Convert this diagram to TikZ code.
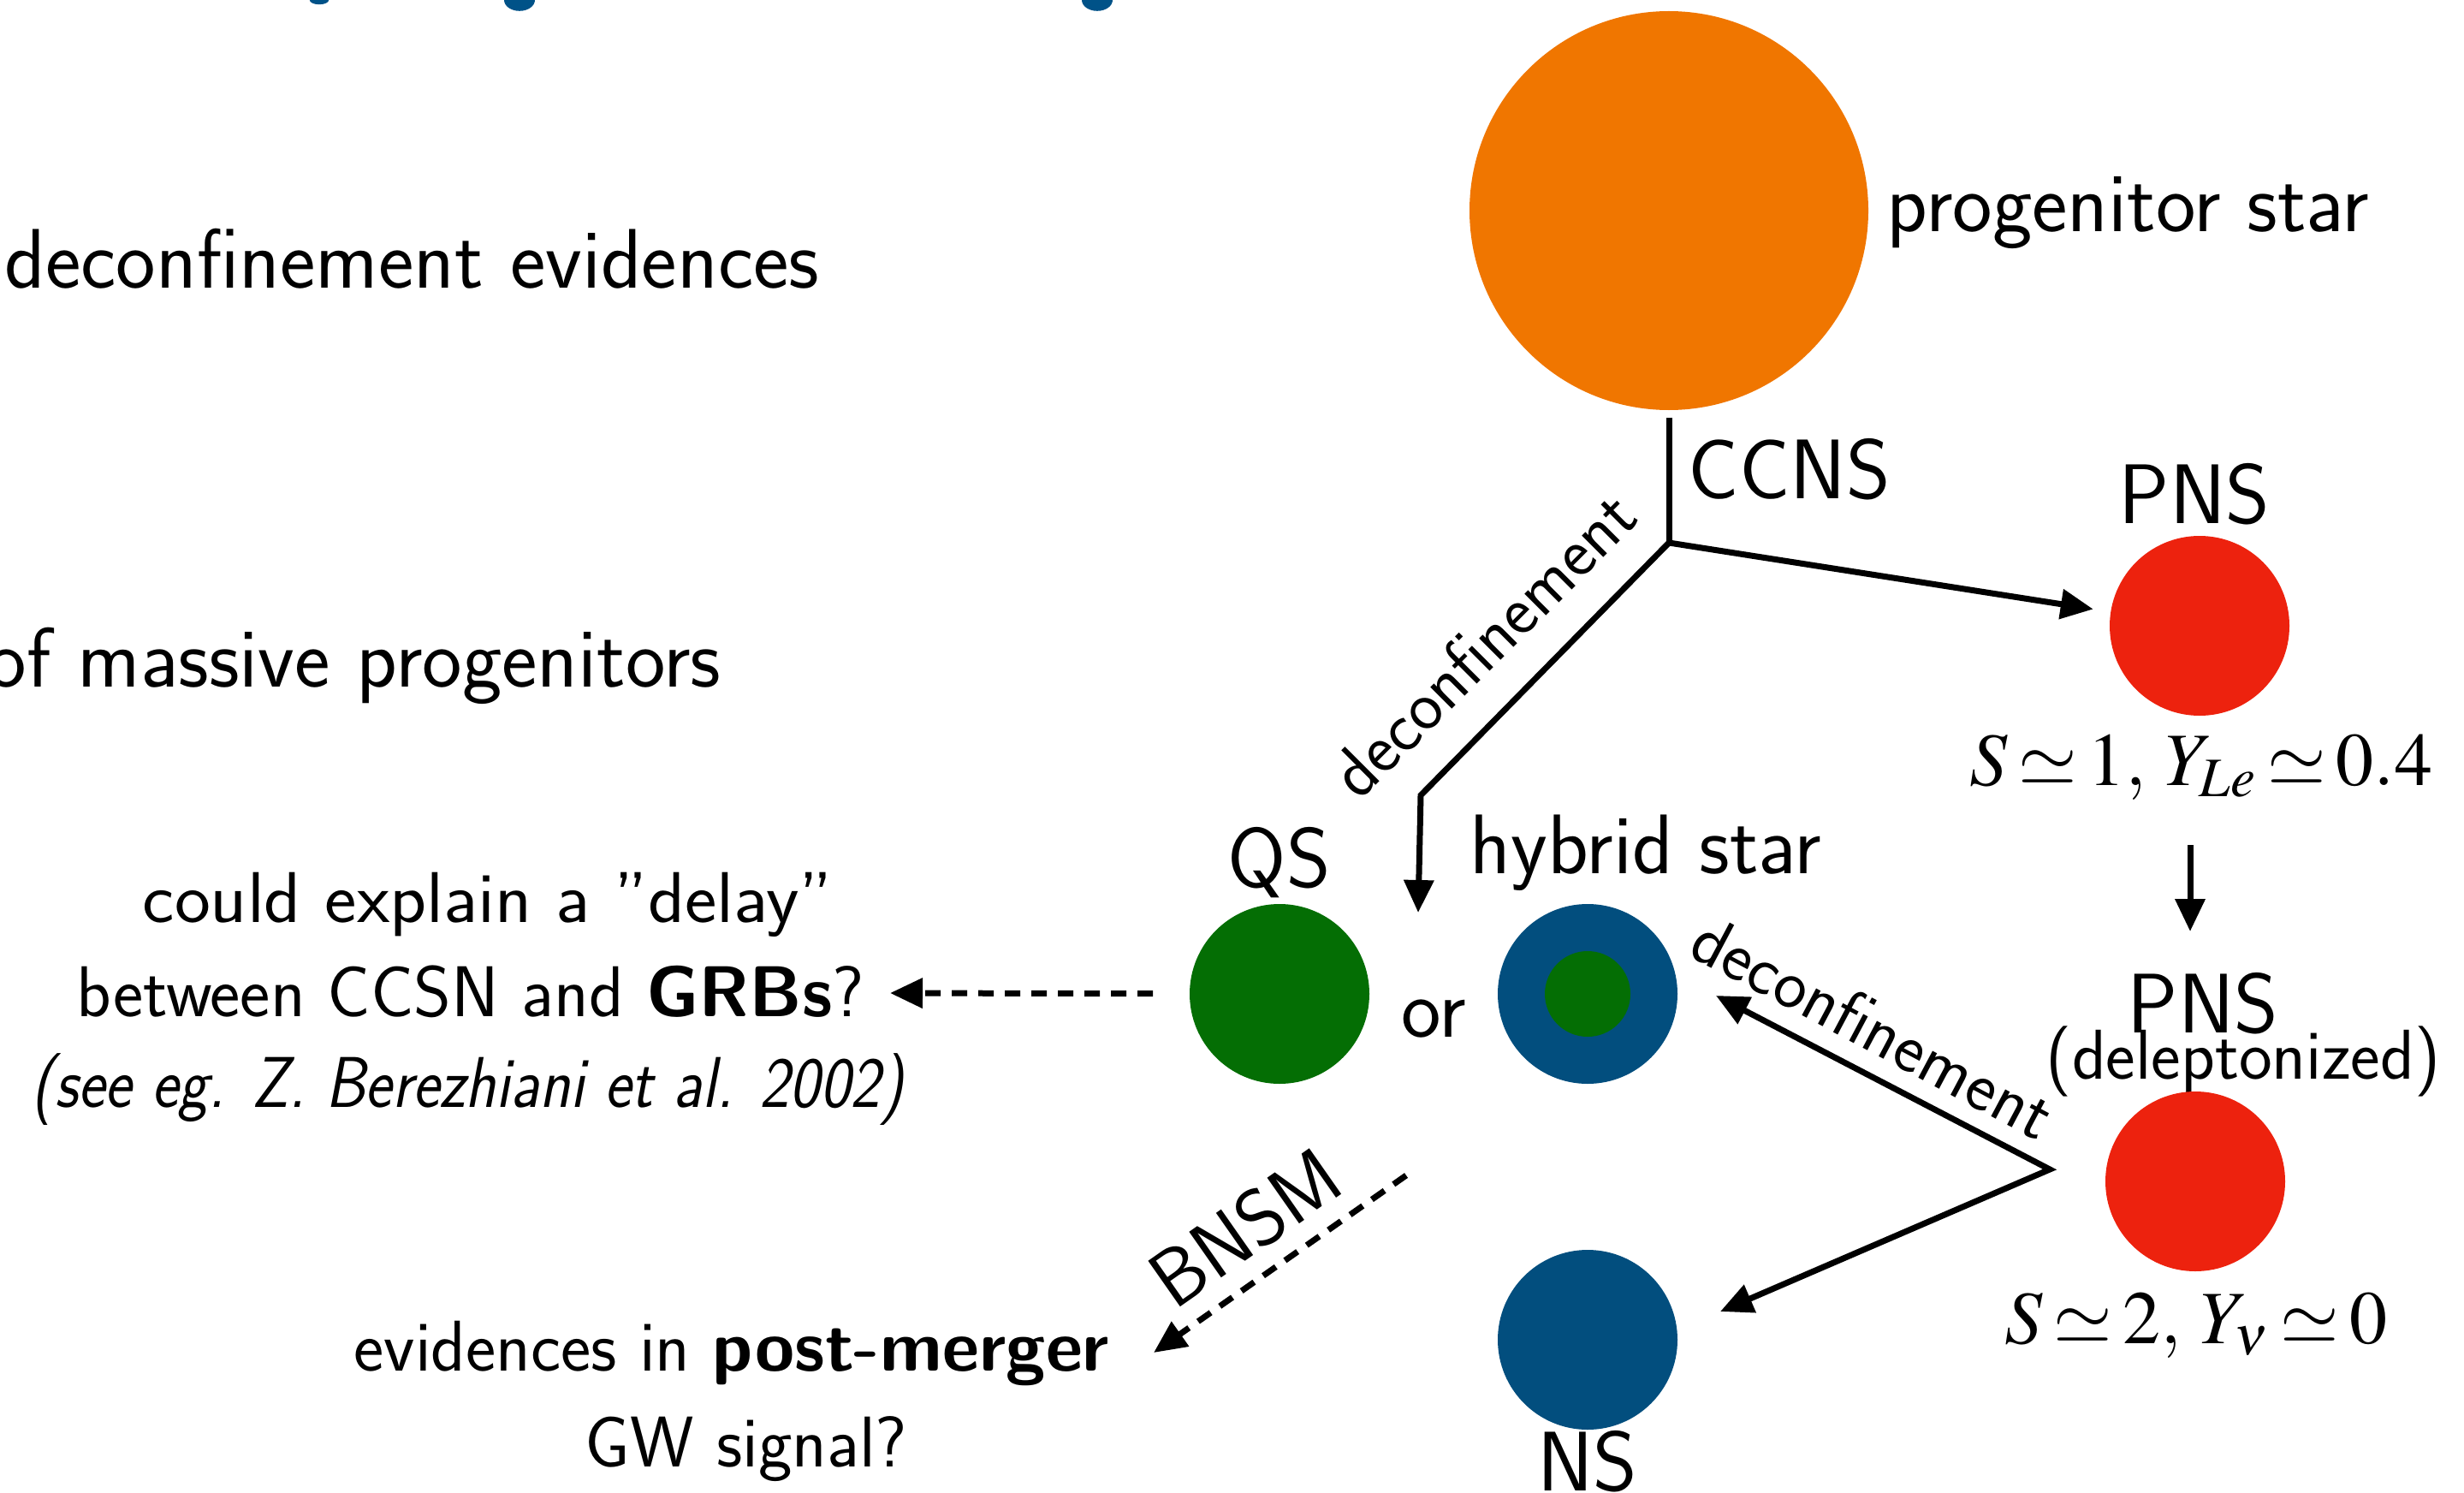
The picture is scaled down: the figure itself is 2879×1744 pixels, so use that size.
\documentclass[tikz,border=0pt]{standalone}
\usepackage{mathptmx}
\usetikzlibrary{arrows.meta}
\definecolor{cOrange}{RGB}{240,118,0}
\definecolor{cRed}{RGB}{237,34,14}
\definecolor{cGreen}{RGB}{4,110,4}
\definecolor{cBlue}{RGB}{2,78,126}
\definecolor{cTitle}{RGB}{0,82,136}
\begin{document}
\begin{tikzpicture}[x=0.25pt,y=-0.25pt,
  lbl/.style={font=\sffamily\fontsize{24.7}{29}\selectfont, inner sep=0pt},
  sml/.style={font=\sffamily\fontsize{21}{25}\selectfont, inner sep=0pt},
  rot/.style={font=\sffamily\fontsize{20.5}{24}\selectfont, inner sep=0pt},
  mth/.style={font=\fontsize{22}{26}\selectfont, inner sep=0pt},
  ball/.style={circle, minimum size=#1, inner sep=0pt, draw=none},
  plainline/.style={line width=1.75pt},
  conn/.style={line width=1.75pt, -{Triangle[length=9.5pt,width=8.5pt]}},
  dashedconn/.style={conn, dash pattern=on 4.5pt off 3.25pt},
]
\useasboundingbox (0,0) rectangle (2879,1744);
\clip (0,0) rectangle (2879,1744);

% cut-off title descenders
\fill[cTitle] (373,0) ellipse [x radius=2.8pt, y radius=1.3pt];
\fill[cTitle] (607,0) ellipse [x radius=4.5pt, y radius=3.2pt];
\fill[cTitle] (1282,0) ellipse [x radius=4.5pt, y radius=3.2pt];

% left slide text
\node[lbl, anchor=base east] (t1) at (958,337) {deconfinement evidences};
\node[lbl, anchor=base east] (t2) at (843,802) {of massive progenitors};

% progenitor
\node[ball=116.5pt, fill=cOrange] (prog) at (1950,246) {};
\node[lbl, anchor=base west] (progl) at (2204,270) {progenitor star};
\coordinate (J) at (1950,634);
\draw[plainline, shorten <=2pt] (prog) -- (J);
\node[lbl, anchor=base west] (ccnsl) at (1972,582) {CCNS};

% PNS branch
\node[ball=52.5pt, fill=cRed] (pns1) at (2570,731) {};
\node[lbl, anchor=base] (pns1l) at (2564,611) {PNS};
\draw[conn, shorten >=5pt] (J) -- (pns1);
\node[mth, anchor=base] (m1) at (2572,917) {$\thickmuskip=2.5mu S\simeq 1,\; Y_{Le}\simeq 0.4$};
\coordinate (d1) at (2559,987);
\coordinate (d2) at (2559,1088);
\draw[conn] (d1) -- (d2);
\node[lbl, anchor=base] (pns2l) at (2574,1206) {PNS};
\node[font=\sffamily\fontsize{20.6}{24}\selectfont, inner sep=0pt, anchor=base] (delep) at (2621,1260) {(deleptonized)};
\node[ball=52.5pt, fill=cRed] (pns2) at (2565,1380) {};
\node[mth, anchor=base] (m2) at (2566,1569) {$\thickmuskip=2.5mu S\simeq 2,\; Y_\nu\simeq 0$};

% deconfinement from progenitor
\coordinate (K) at (1660,929);
\coordinate (tipQ) at (1657,1066);
\draw[conn] (J) -- (K) -- (tipQ);
\node[rot, rotate=45] (dec1) at (1733,752) {deconfinement};

% QS / hybrid star / NS
\node[ball=52.5pt, fill=cGreen] (qs) at (1495,1161) {};
\node[lbl, anchor=base] (qsl) at (1495,1036) {QS};
\node[lbl, anchor=base] (orl) at (1675,1211) {or};
\node[ball=52.5pt, fill=cBlue] (hyb) at (1855,1161) {};
\node[ball=25pt, fill=cGreen] (hybcore) at (1855,1161) {};
\node[lbl, anchor=base] (hybl) at (1923,1020) {hybrid star};
\node[ball=52.5pt, fill=cBlue] (ns) at (1855,1565) {};
\node[lbl, anchor=base] (nsl) at (1855,1741) {NS};

% deconfinement from deleptonized PNS
\coordinate (M) at (2395,1366);
\coordinate (tipH) at (2005,1163);
\coordinate (tipN) at (2010,1532);
\draw[line width=1.75pt, {Triangle[length=9.5pt,width=8.5pt]}-{Triangle[length=9.5pt,width=8.5pt]}] (tipH) -- (M) -- (tipN);
\node[rot, rotate=-28] (dec2) at (2189,1199) {deconfinement};

% GRB dashed arrow and text
\coordinate (tipG) at (1040,1160);
\draw[dashedconn, shorten <=10.5pt] (qs) -- (tipG);
\node[sml, anchor=base] (l1) at (570,1077) {\scalebox{1.06}[1]{could explain a ”delay”}};
\node[sml, anchor=base] (l2) at (550,1187) {between CCSN and \textbf{GRBs}?};
\node[sml, anchor=base] (l3) at (548,1293) {\scalebox{0.89}[1]{\textit{(see eg. Z. Berezhiani et al. 2002)}}};

% BNSM dashed arrow and text
\coordinate (bs) at (1643,1373);
\coordinate (bt) at (1348,1580);
\draw[dashedconn] (bs) -- (bt);
\node[font=\sffamily\fontsize{23.5}{27}\selectfont, inner sep=0pt, rotate=35] (bnsm) at (1455,1434) {BNSM};
\node[sml, anchor=base] (l4) at (855,1601) {evidences in \textbf{post-merger}};
\node[sml, anchor=base] (l5) at (872,1713) {GW signal?};
\end{tikzpicture}
\end{document}
